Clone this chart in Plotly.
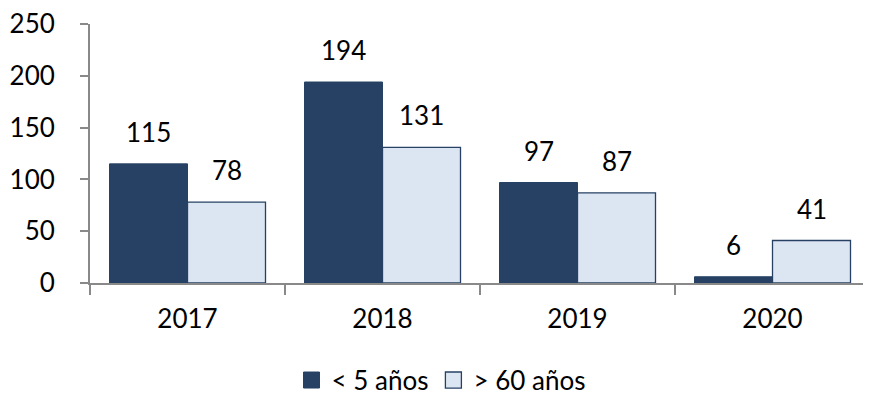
import plotly.graph_objects as go

years = ["2017", "2018", "2019", "2020"]
menores_5 = [115, 194, 97, 6]
mayores_60 = [78, 131, 87, 41]
series_names = ["< 5 años", "> 60 años"]
y_ticks = [0, 50, 100, 150, 200, 250]

dark = "#264164"
light = "#DCE6F2"
axis_col = "#898989"
font_fam = "Lato, Open Sans, sans-serif"
fs = 26

fig = go.Figure()
fig.add_trace(go.Bar(x=years, y=menores_5, name=series_names[0], showlegend=False,
                     marker=dict(color=dark, line=dict(color=dark, width=1))))
fig.add_trace(go.Bar(x=years, y=mayores_60, name=series_names[1], showlegend=False,
                     marker=dict(color=light, line=dict(color=dark, width=1.3))))
# legend entries
fig.add_trace(go.Scatter(x=[years[0]], y=[None], mode="markers", name=series_names[0],
                         marker=dict(symbol="square", size=18, color=dark,
                                     line=dict(color=dark, width=1))))
fig.add_trace(go.Scatter(x=[years[0]], y=[None], mode="markers", name=series_names[1],
                         marker=dict(symbol="square", size=18, color=light,
                                     line=dict(color=dark, width=1.3))))

annotations = []
for i, vals in enumerate([menores_5, mayores_60]):
    for idx, v in enumerate(vals):
        annotations.append(dict(x=idx, y=v, text=str(v), showarrow=False,
                                xref="x", yref="y", yanchor="bottom",
                                xshift=(-39 if i == 0 else 39), yshift=14,
                                font=dict(size=fs, color="#000000", family=font_fam)))

fig.update_layout(
    width=863, height=393,
    margin=dict(l=82, r=1, t=16, b=118, autoexpand=False),
    plot_bgcolor="white", paper_bgcolor="white",
    barmode="group", bargap=0.2, bargroupgap=0,
    font=dict(family=font_fam, size=fs, color="#000000"),
    annotations=annotations,
    showlegend=True,
    legend=dict(orientation="h", x=0.45, xanchor="center", y=-0.375, yanchor="middle",
                font=dict(size=fs), itemsizing="trace", traceorder="normal",
                tracegroupgap=0),
)
fig.update_xaxes(type="category", categoryorder="array", categoryarray=years,
                 range=[-0.5, len(years) - 0.5], autorange=False, automargin=False,
                 showline=True, linecolor=axis_col, linewidth=2,
                 ticks="outside", tickson="boundaries", ticklen=10, tickcolor=axis_col,
                 tickwidth=2, tickfont=dict(size=fs), showgrid=False,
                 ticklabelstandoff=12)
fig.update_yaxes(range=[0, 250], tickvals=y_ticks, showline=True, linecolor=axis_col,
                 linewidth=2, ticks="outside", ticklen=8, tickcolor=axis_col, tickwidth=2,
                 showgrid=False, zeroline=False, tickfont=dict(size=fs),
                 automargin=False, ticklabelstandoff=20, ticklabeloverflow="allow")

fig.write_html("out.html")
